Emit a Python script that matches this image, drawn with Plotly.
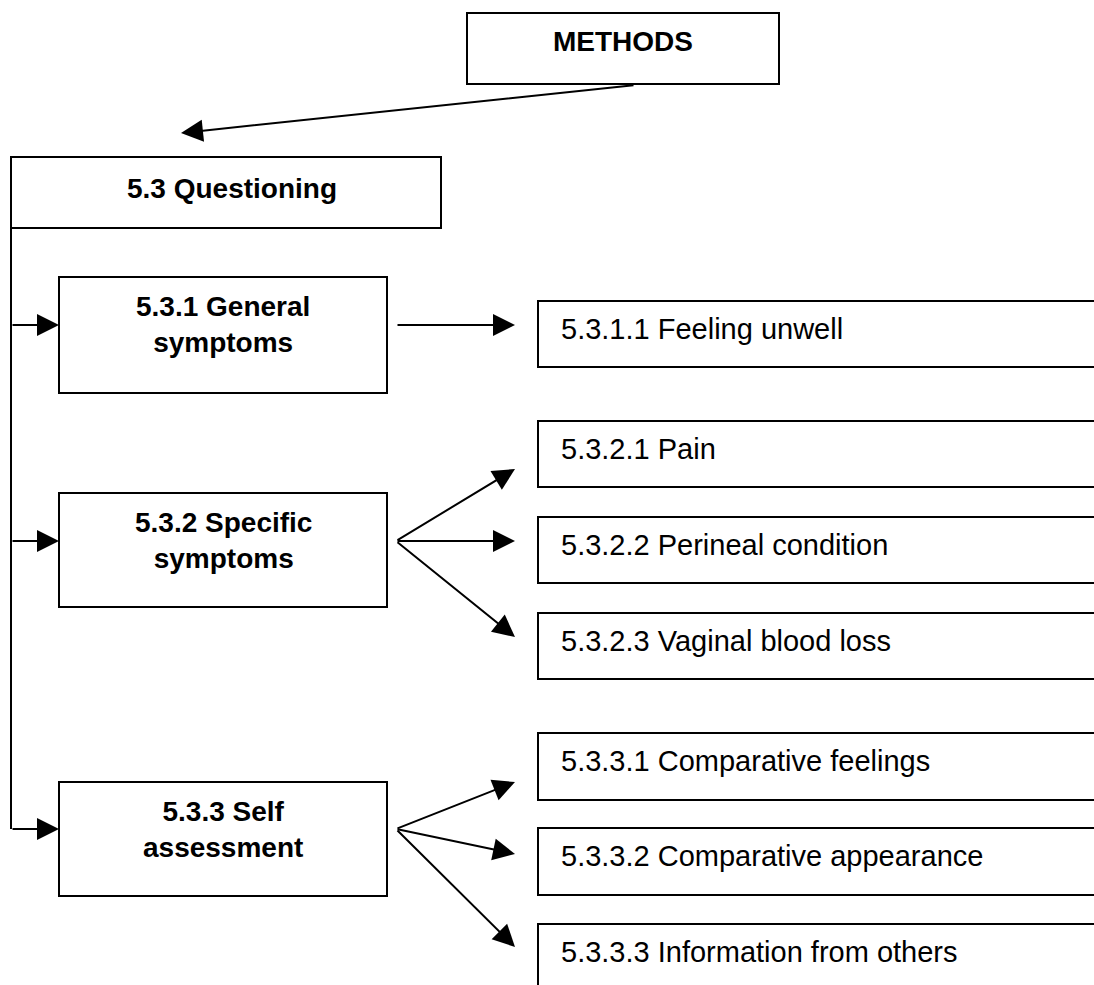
import plotly.graph_objects as go

# ---- diagram content ----
top_label = "METHODS"
root_label = "5.3 Questioning"
main_labels = ["5.3.1 General<br>symptoms", "5.3.2 Specific<br>symptoms", "5.3.3 Self<br>assessment"]
sub_labels = [
    ["5.3.1.1 Feeling unwell"],
    ["5.3.2.1 Pain", "5.3.2.2 Perineal condition", "5.3.2.3 Vaginal blood loss"],
    ["5.3.3.1 Comparative feelings", "5.3.3.2 Comparative appearance", "5.3.3.3 Information from others"],
]

# ---- geometry (pixel layout, y downward) ----
W, H = 1094, 985
top_box = (467, 779, 13, 84)
root_box = (11, 441, 157, 228)
main_x = (59, 387)
main_y = [(277, 393), (493, 607), (782, 896)]
main_arrow_y = [325, 541, 829]
sub_x0 = 538
sub_x1 = 1110
sub_y = [
    [(301, 367)],
    [(421, 487), (517, 583), (613, 679)],
    [(733, 800), (828, 895), (924, 990)],
]
sub_tip_y = [
    [325],
    [469, 541, 637],
    [782, 854, 947],
]
trunk_x = 11
fan_x0 = 396
fan_x1 = 515

FONT = "Liberation Sans"
LW = 2

fig = go.Figure()
fig.add_trace(go.Scatter(x=[0, W], y=[0, H], mode="markers",
                         marker=dict(opacity=0), hoverinfo="skip", showlegend=False))

shapes = []
annotations = []


def rect(x0, x1, y0, y1):
    shapes.append(dict(type="rect", xref="x", yref="y", x0=x0, x1=x1, y0=y0, y1=y1,
                       line=dict(color="black", width=LW), fillcolor="rgba(0,0,0,0)"))


def arrow(x0, y0, x1, y1):
    annotations.append(dict(x=x1, y=y1, ax=x0, ay=y0, xref="x", yref="y", axref="x", ayref="y",
                            text="", showarrow=True, arrowhead=2, arrowsize=2.2, arrowwidth=LW,
                            arrowcolor="black", standoff=0, startstandoff=0))


def label(x, y, text, bold=False, size=28, xanchor="center"):
    t = f"<b>{text}</b>" if bold else text
    annotations.append(dict(x=x, y=y, xref="x", yref="y", text=t, showarrow=False,
                            xanchor=xanchor, yanchor="middle", align="center",
                            font=dict(family=FONT, size=size, color="black")))


# top box
rect(*top_box)
label((top_box[0] + top_box[1]) / 2, 41, top_label, bold=True)
arrow(635, 85, 181, 133)

# root box
rect(*root_box)
label(232, 188, root_label, bold=True)

# trunk line
shapes.append(dict(type="line", xref="x", yref="y", x0=trunk_x, x1=trunk_x,
                   y0=root_box[2], y1=main_arrow_y[-1], line=dict(color="black", width=LW)))

for i, lab in enumerate(main_labels):
    y0, y1 = main_y[i]
    rect(main_x[0], main_x[1], y0, y1)
    label((main_x[0] + main_x[1]) / 2, y0 + 47, lab, bold=True)
    arrow(trunk_x, main_arrow_y[i], main_x[0], main_arrow_y[i])
    for j, s in enumerate(sub_labels[i]):
        sy0, sy1 = sub_y[i][j]
        rect(sub_x0, sub_x1, sy0, sy1)
        label(559, sy0 + 28, s, size=29, xanchor="left")
        arrow(fan_x0, main_arrow_y[i], fan_x1, sub_tip_y[i][j])

fig.update_layout(
    width=W, height=H, margin=dict(l=0, r=0, t=0, b=0),
    paper_bgcolor="white", plot_bgcolor="white", showlegend=False,
    xaxis=dict(range=[0, W], visible=False, fixedrange=True),
    yaxis=dict(range=[H, 0], visible=False, fixedrange=True),
    shapes=shapes, annotations=annotations,
)

fig.write_html("out.html", config={"displayModeBar": False},
               post_script="document.body.style.margin='0';document.body.style.overflow='hidden';")
